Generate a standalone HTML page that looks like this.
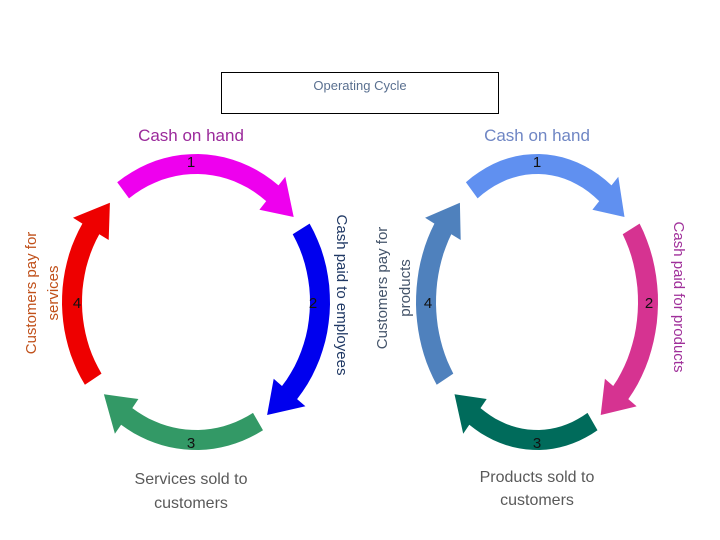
<!DOCTYPE html>
<html><head><meta charset="utf-8"><style>
html,body{margin:0;padding:0;background:#fff;}
svg{display:block;font-family:"Liberation Sans",sans-serif;}
</style></head><body>
<svg id="s" width="720" height="540" viewBox="0 0 720 540" xmlns="http://www.w3.org/2000/svg">
<rect x="221.5" y="72.5" width="277" height="41" fill="none" stroke="#000" stroke-width="1"/>
<text x="360" y="90" font-size="13" fill="#5a7090" text-anchor="middle">Operating Cycle</text>
<text x="191" y="141" font-size="17" fill="#9b2a9b" text-anchor="middle">Cash on hand</text>
<text x="537" y="141" font-size="17" fill="#6f86c4" text-anchor="middle">Cash on hand</text>
<g id="arrows"></g>
<g font-size="15" fill="#111" text-anchor="middle">
<text x="191" y="167">1</text><text x="313" y="308">2</text><text x="191" y="448">3</text><text x="77" y="308">4</text>
<text x="537" y="167">1</text><text x="649" y="308">2</text><text x="537" y="448">3</text><text x="428" y="308">4</text>
</g>
<g font-size="15" text-anchor="middle">
<text transform="translate(36,293) rotate(-90)" fill="#c0501a">Customers pay for</text>
<text transform="translate(58,293) rotate(-90)" fill="#c0501a">services</text>
<text transform="translate(337,295) rotate(90)" fill="#1f3864">Cash paid to employees</text>
<text transform="translate(387,288) rotate(-90)" fill="#44546a">Customers pay for</text>
<text transform="translate(410,288) rotate(-90)" fill="#44546a">products</text>
<text transform="translate(674,297) rotate(90)" fill="#a0309a">Cash paid for products</text>
</g>
<g font-size="16" text-anchor="middle" fill="#595959">
<text x="191" y="484">Services sold to</text>
<text x="191" y="508">customers</text>
<text x="537" y="482">Products sold to</text>
<text x="537" y="505">customers</text>
</g>
</svg>
<script>
var g=document.getElementById('arrows');
function pt(c,r,t){var a=t*Math.PI/180;return [c[0]+(c[2]+r)*Math.cos(a),c[1]+(c[3]+r)*Math.sin(a)];}
function arrow(c,t1,t2,col){
  var w=10,hw=21,hl=14;
  var th=t2-hl,pts=[],n=20,i;
  for(i=0;i<=n;i++)pts.push(pt(c,w,t1+(th-t1)*i/n));
  pts.push(pt(c,hw,th));pts.push(pt(c,0,t2));pts.push(pt(c,-hw,th));
  for(i=n;i>=0;i--)pts.push(pt(c,-w,t1+(th-t1)*i/n));
  var p=document.createElementNS('http://www.w3.org/2000/svg','polygon');
  p.setAttribute('points',pts.map(function(q){return q[0].toFixed(1)+','+q[1].toFixed(1)}).join(' '));
  p.setAttribute('fill',col);g.appendChild(p);
}
var L=[196,302,124,138],R=[537,302,111,138];
arrow(L,234,322,'#ee00ee');
arrow(L,328,415,'#0000ee');
arrow(L,60,138,'#339966');
arrow(L,146,226,'#ee0000');
arrow(R,234,322,'#6090f0');
arrow(R,328,415,'#d63391');
arrow(R,60,138,'#006b5b');
arrow(R,146,226,'#4f81bd');
</script>
</body></html>
